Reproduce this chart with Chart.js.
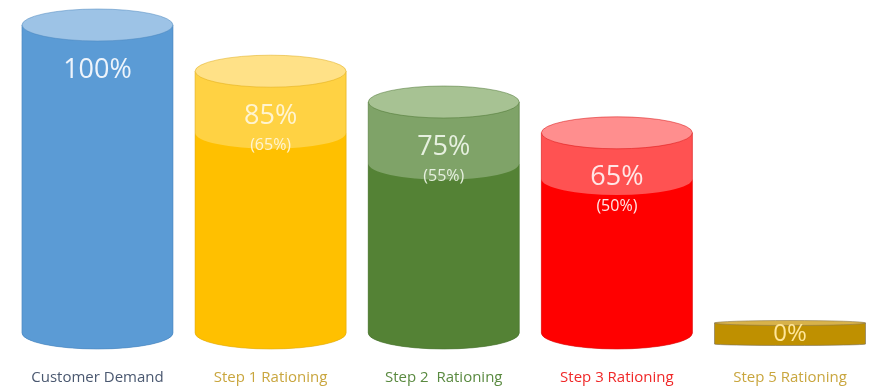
<!DOCTYPE html>
<html>
<head>
<meta charset="utf-8">
<script src="https://cdn.jsdelivr.net/npm/chart.js@4/dist/chart.umd.min.js"></script>
<style>
  html, body { margin: 0; padding: 0; background: #ffffff; }
  #wrap { width: 870px; height: 388px; }
</style>
</head>
<body>
<div id="wrap"><canvas id="chart" width="870" height="388"></canvas></div>
<script>
// Rationing stages and the share of demand each one still serves
const categories = ['Customer Demand', 'Step 1 Rationing', 'Step 2  Rationing', 'Step 3 Rationing', 'Step 5 Rationing'];
const served = [100, 85, 75, 65, 0];
const guaranteed = [null, 65, 55, 50, 0];

// Cylinder colours: lower (solid) body, upper (lighter) body, lid, edge, text
const solidColors = ['#5B9BD5', '#FFC000', '#548235', '#FF0000', '#BF9000'];
const lightColors = ['#5B9BD5', '#FFD243', '#7FA368', '#FF5252', '#BF9000'];
const lidColors   = ['#9DC3E6', '#FFE187', '#A7C293', '#FF8E8E', '#D8B24A'];
const edgeColors  = ['#4A86BE', '#E0AA10', '#4A7330', '#D81010', '#9C7A10'];
const textColors  = ['#EEF4FB', '#FFF4D0', '#E6F0DF', '#FFE6E6', '#FFE699'];
const tickColors  = ['#4A5870', '#C9A63E', '#5A8A40', '#F02828', '#C9A63E'];

const LID_RY = 16;

const cylinders = {
  id: 'cylinders',
  afterDatasetsDraw(chart) {
    const ctx = chart.ctx;
    const outer = chart.getDatasetMeta(0).data;
    const inner = chart.getDatasetMeta(1).data;
    ctx.save();
    outer.forEach((bar, i) => {
      const { x, y, base, width } = bar.getProps(['x', 'y', 'base', 'width'], true);
      const rx = width / 2;
      const left = x - rx, right = x + rx;

      if (served[i] === 0) {
        // an empty stage is drawn as a flat disc on the floor
        const top = base - 10, bottom = base + 12;
        ctx.beginPath();
        ctx.moveTo(left, top);
        ctx.lineTo(left, bottom - 1);
        ctx.ellipse(x, bottom - 1, rx, 1.5, 0, Math.PI, 0, true);
        ctx.lineTo(right, top);
        ctx.closePath();
        ctx.fillStyle = solidColors[i];
        ctx.fill();
        ctx.lineWidth = 1;
        ctx.strokeStyle = 'rgba(120,110,90,0.6)';
        ctx.stroke();
        ctx.beginPath();
        ctx.ellipse(x, top, rx, 2.5, 0, 0, Math.PI * 2);
        ctx.fillStyle = lidColors[i];
        ctx.fill();
        ctx.strokeStyle = 'rgba(140,120,70,0.6)';
        ctx.stroke();
        ctx.font = '24px "Open Sans"';
        ctx.textAlign = 'center';
        ctx.textBaseline = 'middle';
        ctx.fillStyle = textColors[i];
        ctx.fillText(served[i] + '%', x, base + 1);
        return;
      }

      const innerY = guaranteed[i] == null ? y : inner[i].getProps(['y'], true).y;

      // full-height body in the lighter shade
      ctx.beginPath();
      ctx.moveTo(left, y);
      ctx.lineTo(left, base);
      ctx.ellipse(x, base, rx, LID_RY, 0, Math.PI, 0, true);
      ctx.lineTo(right, y);
      ctx.closePath();
      ctx.fillStyle = lightColors[i];
      ctx.fill();

      // solid lower body up to the guaranteed level
      ctx.beginPath();
      ctx.moveTo(left, innerY);
      ctx.ellipse(x, innerY, rx, LID_RY, 0, Math.PI, 0, true);
      ctx.lineTo(right, base);
      ctx.ellipse(x, base, rx, LID_RY, 0, 0, Math.PI, false);
      ctx.closePath();
      ctx.fillStyle = solidColors[i];
      ctx.fill();

      // outline of the body
      ctx.beginPath();
      ctx.moveTo(left, y);
      ctx.lineTo(left, base);
      ctx.ellipse(x, base, rx, LID_RY, 0, Math.PI, 0, true);
      ctx.lineTo(right, y);
      ctx.lineWidth = 1;
      ctx.strokeStyle = edgeColors[i];
      ctx.globalAlpha = 0.6;
      ctx.stroke();
      ctx.globalAlpha = 1;

      // lid
      ctx.beginPath();
      ctx.ellipse(x, y, rx, LID_RY, 0, 0, Math.PI * 2);
      ctx.fillStyle = lidColors[i];
      ctx.fill();
      ctx.globalAlpha = 0.5;
      ctx.strokeStyle = edgeColors[i];
      ctx.stroke();
      ctx.globalAlpha = 1;

      // value labels
      ctx.textAlign = 'center';
      ctx.textBaseline = 'middle';
      ctx.fillStyle = textColors[i];
      ctx.font = '27px "Open Sans"';
      ctx.fillText(served[i] + '%', x, y + 45);
      if (guaranteed[i] != null) {
        ctx.font = '16px "Open Sans"';
        ctx.fillText('(' + guaranteed[i] + '%)', x, y + 74);
      }
    });
    ctx.restore();
  }
};

const toPoints = arr => arr.map((v, i) => ({ x: i, y: v }));

new Chart(document.getElementById('chart'), {
  type: 'bar',
  data: {
    datasets: [
      { label: 'Served', data: toPoints(served), backgroundColor: 'rgba(0,0,0,0)', barThickness: 151, grouped: false },
      { label: 'Guaranteed', data: toPoints(guaranteed), backgroundColor: 'rgba(0,0,0,0)', barThickness: 151, grouped: false }
    ]
  },
  options: {
    responsive: false,
    animation: false,
    devicePixelRatio: 1,
    layout: { padding: { top: 25, bottom: 2, left: 0, right: 0 } },
    plugins: { legend: { display: false }, tooltip: { enabled: false } },
    scales: {
      x: {
        type: 'linear',
        offset: false,
        min: -0.563,
        max: 4.462,
        grid: { display: false, drawTicks: false, offset: false },
        border: { display: false },
        ticks: {
          stepSize: 1,
          includeBounds: false,
          autoSkip: false,
          maxRotation: 0,
          padding: 36,
          font: { family: 'Open Sans', size: 15 },
          color: c => tickColors[Math.round(c.tick.value)] || '#444',
          callback: v => categories[Math.round(v)]
        },
        afterFit: scale => {
          scale.paddingLeft = 0;
          scale.paddingRight = 0;
          scale.paddingTop = 0;
          scale.paddingBottom = 0;
          scale.height = 53;
        }
      },
      y: { display: false, min: 0, max: 100 }
    }
  },
  plugins: [cylinders]
});
</script>
</body>
</html>
